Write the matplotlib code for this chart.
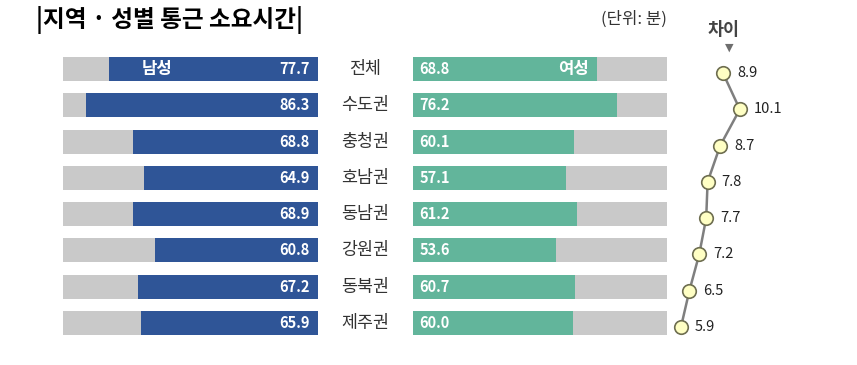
import matplotlib.pyplot as plt

plt.rcParams['font.family'] = ['Noto Sans CJK KR', 'DejaVu Sans']

regions = ["전체", "수도권", "충청권", "호남권", "동남권", "강원권", "동북권", "제주권"]
male = [77.7, 86.3, 68.8, 64.9, 68.9, 60.8, 67.2, 65.9]
female = [68.8, 76.2, 60.1, 57.1, 61.2, 53.6, 60.7, 60.0]
diff = [8.9, 10.1, 8.7, 7.8, 7.7, 7.2, 6.5, 5.9]

blue = "#2F5597"
green = "#62B59B"
gray = "#C9C9C9"
vmax = 95

W, H = 857, 365
fig = plt.figure(figsize=(W / 100, H / 100), dpi=100)


def px_axes(x0, x1, ytop, ybot):
    return fig.add_axes([x0 / W, 1 - ybot / H, (x1 - x0) / W, (ybot - ytop) / H])


ypos = list(range(len(regions)))
bh = 0.66

# male bars (left, growing leftwards)
axm = px_axes(63, 318, 51, 341)
axm.barh(ypos, [vmax] * len(ypos), height=bh, color=gray)
axm.barh(ypos, male, height=bh, color=blue)
axm.set_xlim(vmax, 0)
axm.set_ylim(7.5, -0.5)
axm.axis("off")
for y, v in zip(ypos, male):
    axm.text(3, y, f"{v:.1f}", color="white", fontsize=10.5, fontweight="bold",
             ha="right", va="center")
axm.text(60, 0, "남성", color="white", fontsize=12, fontweight="bold",
         ha="center", va="center")

# female bars (right)
axf = px_axes(413, 667, 51, 341)
axf.barh(ypos, [vmax] * len(ypos), height=bh, color=gray)
axf.barh(ypos, female, height=bh, color=green)
axf.set_xlim(0, vmax)
axf.set_ylim(7.5, -0.5)
axf.axis("off")
for y, v in zip(ypos, female):
    axf.text(2.5, y, f"{v:.1f}", color="white", fontsize=10.5, fontweight="bold",
             ha="left", va="center")
axf.text(60, 0, "여성", color="white", fontsize=12, fontweight="bold",
         ha="center", va="center")

# region labels
for y, r in zip(ypos, regions):
    fig.text(365 / W, 1 - (69 + y * 36.3) / H, r, fontsize=12.5, color="#333333",
             ha="center", va="center")

# difference line
axd = px_axes(660, 800, 55, 345)
axd.plot(diff, ypos, color="#7F7F7F", lw=1.8, zorder=1)
axd.scatter(diff, ypos, s=95, facecolor="#FFFFC4", edgecolor="#6E6E50",
            linewidth=1.2, zorder=2)
for y, v in zip(ypos, diff):
    axd.text(v + 1.0, y, f"{v:.1f}", fontsize=10.5, color="#222222",
             ha="left", va="center")
axd.set_xlim(5.9 - 21 / 14, 5.9 + 119 / 14)
axd.set_ylim(7.5, -0.5)
axd.axis("off")

fig.text(36 / W, 1 - 20 / H, "|지역 · 성별 통근 소요시간|", fontsize=17,
         fontweight="bold", ha="left", va="center")
fig.text(634 / W, 1 - 19 / H, "(단위: 분)", fontsize=12, color="#333333",
         ha="center", va="center")
fig.text(724 / W, 1 - 30 / H, "차이", fontsize=12.5, fontweight="bold",
         color="#444444", ha="center", va="center")
fig.text(729 / W, 1 - 48 / H, "▼", fontsize=8, color="#6E6E6E",
         ha="center", va="center", family="DejaVu Sans")

fig.savefig("out.png", dpi=100)
